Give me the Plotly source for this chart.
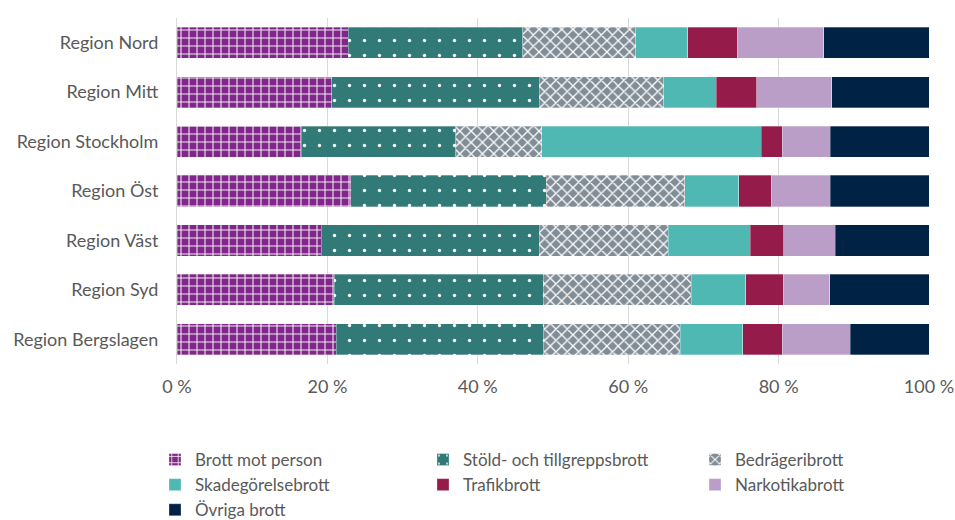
import plotly.graph_objects as go

regions = ["Region Nord", "Region Mitt", "Region Stockholm", "Region Öst",
           "Region Väst", "Region Syd", "Region Bergslagen"]

series_names = ["Brott mot person", "Stöld- och tillgreppsbrott", "Bedrägeribrott",
                "Skadegörelsebrott", "Trafikbrott", "Narkotikabrott", "Övriga brott"]

# Share of reported offences (%) per region
brott_mot_person = [22.8, 20.6, 16.5, 23.1, 19.2, 20.9, 21.2]
stold_tillgrepp = [23.2, 27.6, 20.6, 26.0, 29.0, 27.8, 27.6]
bedrageri = [15.0, 16.5, 11.4, 18.4, 17.1, 19.7, 18.1]
skadegorelse = [6.9, 7.0, 29.2, 7.2, 10.9, 7.2, 8.3]
trafik = [6.6, 5.4, 2.8, 4.3, 4.5, 5.0, 5.3]
narkotika = [11.5, 10.0, 6.4, 7.9, 6.8, 6.2, 9.0]
ovriga = [14.0, 12.9, 13.1, 13.1, 12.5, 13.2, 10.5]

x_ticks = [0, 20, 40, 60, 80, 100]
x_tick_labels = ["0 %", "20 %", "40 %", "60 %", "80 %", "100 %"]

values = [brott_mot_person, stold_tillgrepp, bedrageri, skadegorelse, trafik, narkotika, ovriga]
colors = ["#80288A", "#317A77", "#808C96", "#4FB8B3", "#951B4B", "#BB9EC7", "#002244"]
patterns = [
    dict(shape="+", fgcolor="#F2E6F2", bgcolor="#80288A", size=8, solidity=0.25, fillmode="replace"),
    dict(shape=".", fgcolor="#FFFFFF", bgcolor="#317A77", size=15, solidity=0.04, fillmode="replace"),
    dict(shape="x", fgcolor="#FFFFFF", bgcolor="#808C96", size=8, solidity=0.3, fillmode="replace"),
    None, None, None, None,
]
# legend columns, read row-wise: col 1 / col 2 / col 3
legend_ids = ["legend", "legend2", "legend3", "legend", "legend2", "legend3", "legend"]

fig = go.Figure()
for name, vals, col, pat, leg in zip(series_names, values, colors, patterns, legend_ids):
    marker = dict(color=col, line=dict(color="rgba(255,255,255,0.6)", width=0.5))
    if pat is not None:
        marker["pattern"] = pat
    fig.add_trace(go.Bar(
        y=regions, x=vals, name=name, orientation="h", marker=marker, legend=leg,
        hovertemplate="%{y}: %{x:.1f} %<extra>" + name + "</extra>",
    ))

font_family = "Lato, 'Open Sans', sans-serif"
text_color = "#595959"
legend_common = dict(
    orientation="v", xanchor="left", yanchor="top",
    xref="container", yref="container", y=1 - 442 / 520,
    font=dict(size=17, color=text_color, family=font_family),
    traceorder="normal", tracegroupgap=0, itemwidth=30,
    bgcolor="rgba(0,0,0,0)",
)

fig.update_layout(
    width=955, height=520,
    barmode="stack", bargap=0.37,
    plot_bgcolor="white", paper_bgcolor="white",
    margin=dict(l=177, r=26, t=18, b=156, autoexpand=False),
    font=dict(family=font_family, size=18, color=text_color),
    xaxis=dict(
        range=[0, 100], tickvals=x_ticks, ticktext=x_tick_labels,
        showgrid=True, gridcolor="#D9D9D9", gridwidth=1,
        zeroline=False, showline=False,
        ticks="outside", ticklen=6, tickcolor="white",
        tickfont=dict(size=18, color=text_color),
        fixedrange=True,
    ),
    yaxis=dict(
        autorange="reversed",
        showline=True, linecolor="#D9D9D9", linewidth=1,
        ticks="outside", ticklen=14, tickcolor="white",
        tickfont=dict(size=18, color=text_color),
        fixedrange=True,
    ),
    legend=dict(legend_common, x=155 / 955),
    legend2=dict(legend_common, x=423 / 955),
    legend3=dict(legend_common, x=695 / 955),
)

fig.write_html("out.html")
